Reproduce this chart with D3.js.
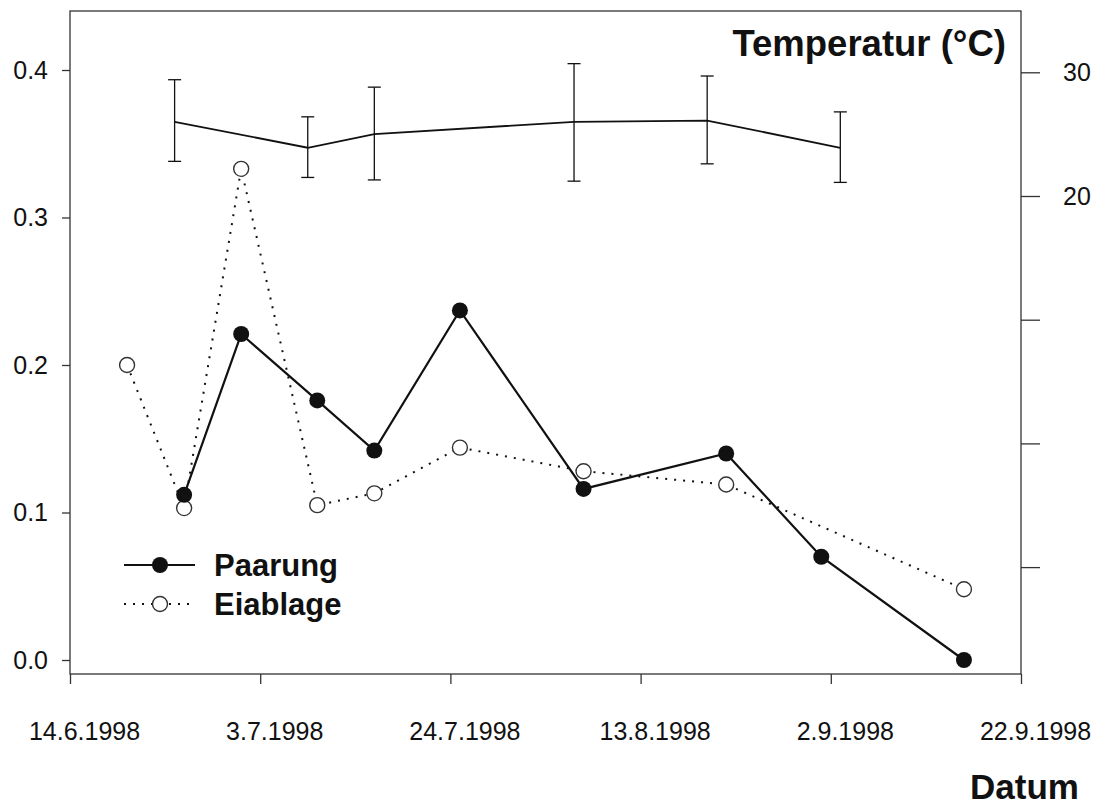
<!DOCTYPE html>
<html>
<head>
<meta charset="utf-8">
<script src="https://cdn.jsdelivr.net/npm/d3@7"></script>
<style>
  html, body { margin: 0; padding: 0; background: #fff; }
  svg { display: block; font-family: "Liberation Sans", Arial, sans-serif; }
</style>
</head>
<body>
<svg id="chart" width="1097" height="806"></svg>
<script>
// ---- data (days counted from 14.6.1998) ----
const xTickDays   = [0, 20, 40, 60, 80, 100];
const xTickLabels = ["14.6.1998", "3.7.1998", "24.7.1998", "13.8.1998", "2.9.1998", "22.9.1998"];
const yLeftTicks  = [0.0, 0.1, 0.2, 0.3, 0.4];
const yRightTicks = [-10, 0, 10, 20, 30];
const yRightLabelled = [20, 30];

const paarungDays = [12, 18, 26, 32, 41, 54, 69, 79, 94];
const paarung     = [0.112, 0.221, 0.176, 0.142, 0.237, 0.116, 0.140, 0.070, 0.000];

const eiablageDays = [6, 12, 18, 26, 32, 41, 54, 69, 94];
const eiablage     = [0.200, 0.103, 0.333, 0.105, 0.113, 0.144, 0.128, 0.119, 0.048];

const tempDays = [11, 25, 32, 53, 67, 81];
const tempMean = [26.0, 23.9, 25.0, 26.0, 26.1, 23.9];
const tempHigh = [29.4, 26.4, 28.8, 30.7, 29.7, 26.8];
const tempLow  = [22.8, 21.5, 21.3, 21.2, 22.6, 21.1];

const legendItems = [
  { name: "Paarung", filled: true },
  { name: "Eiablage", filled: false }
];

// ---- layout ----
const svg = d3.select("#chart");
const L = 70, R = 1021, T = 11, B = 674;

const x  = d3.scaleLinear().domain([0, 100]).range([L, R]);
const yL = d3.scaleLinear().domain([0, 0.4]).range([660, 70]);
const yR = d3.scaleLinear().domain([20, 30]).range([196, 72.3]);

const ink = "#111";
const frameCol = "#333";

// frame
svg.append("rect")
  .attr("x", L).attr("y", T).attr("width", R - L).attr("height", B - T)
  .attr("fill", "none").attr("stroke", frameCol).attr("stroke-width", 1.3);

// axes
function styleAxis(g) {
  g.select(".domain").remove();
  g.selectAll(".tick line").attr("stroke", frameCol).attr("stroke-width", 1.3);
  g.selectAll(".tick text").attr("fill", ink).style("font-size", "25px")
    .style("font-family", "'Liberation Sans', Arial, sans-serif");
}

svg.append("g")
  .attr("transform", `translate(${L},0)`)
  .call(d3.axisLeft(yL).tickValues(yLeftTicks).tickSize(8).tickPadding(14).tickFormat(d3.format(".1f")))
  .call(styleAxis);

svg.append("g")
  .attr("transform", `translate(${R},0)`)
  .call(d3.axisRight(yR).tickValues(yRightTicks).tickSize(19).tickPadding(23)
    .tickFormat(d => yRightLabelled.includes(d) ? d : ""))
  .call(styleAxis);

const xAxisG = svg.append("g")
  .attr("transform", `translate(0,${B})`)
  .call(d3.axisBottom(x).tickValues(xTickDays).tickSize(10).tickPadding(38)
    .tickFormat((d, i) => xTickLabels[i]))
  .call(styleAxis);
xAxisG.selectAll(".tick text").attr("dx", 14);

// ---- temperature line with error bars ----
const temp = tempDays.map((d, i) => ({ d, m: tempMean[i], hi: tempHigh[i], lo: tempLow[i] }));
svg.append("path")
  .datum(temp)
  .attr("d", d3.line().x(p => x(p.d)).y(p => yR(p.m)))
  .attr("fill", "none").attr("stroke", ink).attr("stroke-width", 1.8);

const eb = svg.append("g").attr("stroke", ink).attr("stroke-width", 1.3);
temp.forEach(p => {
  eb.append("line").attr("x1", x(p.d)).attr("x2", x(p.d)).attr("y1", yR(p.hi)).attr("y2", yR(p.lo));
  eb.append("line").attr("x1", x(p.d) - 6.5).attr("x2", x(p.d) + 6.5).attr("y1", yR(p.hi)).attr("y2", yR(p.hi));
  eb.append("line").attr("x1", x(p.d) - 6.5).attr("x2", x(p.d) + 6.5).attr("y1", yR(p.lo)).attr("y2", yR(p.lo));
});

// ---- Eiablage (dotted, open circles) & Paarung (solid, filled) ----
const eiData = eiablageDays.map((d, i) => ({ d, v: eiablage[i] }));
const paData = paarungDays.map((d, i) => ({ d, v: paarung[i] }));
const line = d3.line().x(p => x(p.d)).y(p => yL(p.v));

svg.append("path").datum(eiData).attr("d", line)
  .attr("fill", "none").attr("stroke", ink).attr("stroke-width", 2)
  .attr("stroke-dasharray", "2,7").attr("stroke-linecap", "butt");

svg.append("path").datum(paData).attr("d", line)
  .attr("fill", "none").attr("stroke", ink).attr("stroke-width", 2.2);

svg.append("g").selectAll("circle").data(eiData).join("circle")
  .attr("cx", p => x(p.d)).attr("cy", p => yL(p.v)).attr("r", 7.5)
  .attr("fill", "#fff").attr("stroke", "#333").attr("stroke-width", 1.4);

svg.append("g").selectAll("circle").data(paData).join("circle")
  .attr("cx", p => x(p.d)).attr("cy", p => yL(p.v)).attr("r", 8)
  .attr("fill", ink);

// ---- titles ----
svg.append("text").attr("x", 1006).attr("y", 56).attr("text-anchor", "end")
  .style("font-size", "36.5px").style("font-weight", "bold").attr("fill", ink)
  .text("Temperatur (°C)");
svg.append("text").attr("x", 1079).attr("y", 799).attr("text-anchor", "end")
  .style("font-size", "35px").style("font-weight", "bold").attr("fill", ink)
  .text("Datum");

// ---- legend ----
const lg = svg.append("g");
legendItems.forEach((it, i) => {
  const cy = 565 + i * 39;
  lg.append("line").attr("x1", 124).attr("x2", 195).attr("y1", cy).attr("y2", cy)
    .attr("stroke", ink).attr("stroke-width", it.filled ? 2.2 : 2)
    .attr("stroke-dasharray", it.filled ? null : "2,7");
  lg.append("circle").attr("cx", 160).attr("cy", cy).attr("r", it.filled ? 8 : 7.5)
    .attr("fill", it.filled ? ink : "#fff")
    .attr("stroke", it.filled ? "none" : "#333").attr("stroke-width", 1.4);
  lg.append("text").attr("x", 214).attr("y", cy + 11)
    .style("font-size", "31px").style("font-weight", "bold").attr("fill", ink)
    .text(it.name);
});
</script>
</body>
</html>
